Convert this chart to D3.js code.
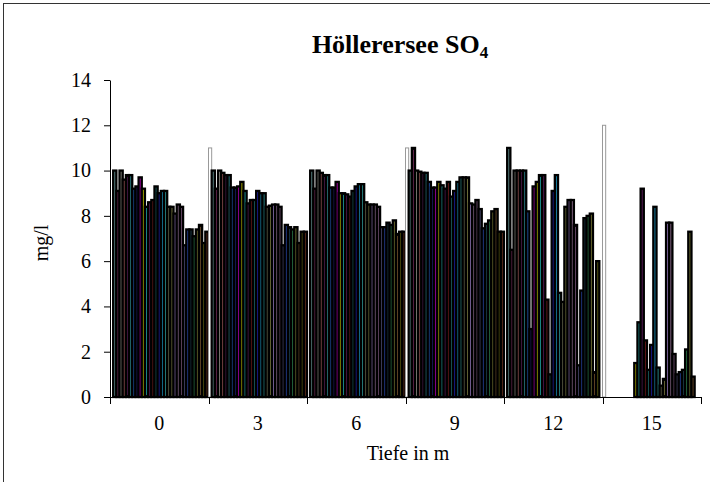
<!DOCTYPE html>
<html><head><meta charset="utf-8">
<script src="https://cdn.jsdelivr.net/npm/d3@7"></script>
<style>html,body{margin:0;padding:0;background:#fff;} svg{display:block;}</style>
</head><body><svg id="chart" width="710" height="482"></svg>
<script>
// ---- data ----
const categories = ["0", "3", "6", "9", "12", "15"];
// one value per sampling series (31 series, first is the white series); null = no value
const depth0  = [null, 10.0, 9.1, 10.0, 9.6, 9.8, 9.8, 9.2, 9.3, 9.7, 9.2, 8.4, 8.6, 8.7, 9.3, 9.0, 9.1, 9.1, 8.4, 8.4, 8.1, 8.5, 8.4, 6.7, 7.4, 7.4, 7.1, 7.4, 7.6, 6.8, 7.3];
const depth3  = [11.0, 10.0, 9.2, 10.0, 9.9, 9.8, 9.8, 9.25, 9.25, 9.3, 9.5, 9.1, 8.55, 8.7, 8.7, 9.1, 9.0, 9.0, 8.4, 8.45, 8.5, 8.5, 8.4, 6.7, 7.6, 7.5, 7.4, 7.5, 6.8, 7.3, 7.3];
const depth6  = [null, 10.0, 9.2, 10.0, 9.9, 9.8, 9.8, 9.25, 9.25, 9.5, 9.0, 9.0, 8.95, 8.85, 9.1, 9.3, 9.4, 9.4, 8.6, 8.5, 8.5, 8.5, 8.4, 7.5, 7.5, 7.7, 7.6, 7.8, 7.2, 7.3, 7.3];
const depth9  = [11.0, 10.0, 11.0, 10.0, 9.95, 9.9, 9.9, 9.5, 9.25, 9.25, 9.5, 9.35, 9.2, 9.5, 8.85, 9.1, 9.5, 9.7, 9.7, 9.7, 8.55, 8.5, 8.7, 8.3, 7.45, 7.65, 7.8, 8.2, 8.3, 7.3, 7.3];
const depth12 = [null, 11.0, 6.5, 10.0, 10.0, 10.0, 10.0, 8.2, 3.0, 9.3, 9.5, 9.8, 9.8, 4.3, 1.0, 9.1, 9.8, 4.6, 4.2, 8.4, 8.7, 8.7, 7.6, 1.4, 4.7, 7.9, 8.0, 8.1, 1.1, 6.0, null];
const depth15 = [12.0, null, null, null, null, null, null, null, null, null, 1.5, 3.3, 9.2, 2.5, 1.2, 2.3, 8.4, 1.3, 0.5, 0.8, 7.7, 7.7, 1.9, 1.0, 1.1, 1.2, 2.1, 7.3, 0.9, null, null];
const yTicks = [0, 2, 4, 6, 8, 10, 12, 14];
const titleMain = "Höllerersee SO";
const titleSub = "4";
const xTitle = "Tiefe in m";
const yTitle = "mg/l";
const seriesColors = ["#FFFFFF", "#5F8C8C", "#6E2A55", "#8A8A80", "#A05A5A", "#4A1A4A", "#2A7A80", "#1F4FA0", "#1A1A60",
  "#B000B0", "#B0B000", "#1F9A9A", "#5A1A5A", "#6A1A1A", "#1A5A5A", "#2020B0", "#1A8AB0", "#2A8A8A", "#6A6A50",
  "#7A7A40", "#8A70B0", "#8A6A8A", "#6A4A6A", "#4A4A70", "#2A4AB0", "#1A3A4A", "#2A7A4A", "#707030", "#6A4A2A",
  "#5A5A10", "#5A2A1A"];

// ---- chart ----
const valuesByDepth = [depth0, depth3, depth6, depth9, depth12, depth15];
const nSeries = depth0.length;
const FONT = "'Liberation Serif', 'Times New Roman', serif";

const svg = d3.select("#chart");

// chart area border
svg.append("rect").attr("x", 3.5).attr("y", 3.5).attr("width", 720).attr("height", 500)
  .attr("fill", "none").attr("stroke", "#333").attr("stroke-width", 1);

const x0 = d3.scaleBand().domain(categories).range([110, 701]).paddingInner(0).paddingOuter(0);
const x1 = d3.scaleBand().domain(d3.range(nSeries)).range([0, x0.bandwidth()]).padding(0);
const y = d3.scaleLinear().domain([0, 14]).range([397, 80]);

// bars
const groups = svg.append("g").selectAll("g").data(categories).join("g")
  .attr("transform", c => `translate(${x0(c)},0)`);
groups.each(function(c, gi) {
  const vals = valuesByDepth[gi].map((v, i) => ({ v, i })).filter(d => d.v != null && d.v > 0);
  d3.select(this).selectAll("rect").data(vals).join("rect")
    .attr("x", d => x1(d.i))
    .attr("width", x1.bandwidth())
    .attr("y", d => y(d.v))
    .attr("height", d => y(0) - y(d.v))
    .attr("fill", d => seriesColors[d.i])
    .attr("stroke", d => d.i === 0 ? "#999" : "#000")
    .attr("stroke-width", d => d.i === 0 ? 1 : 2.3);
});

// y axis
const yAxis = svg.append("g").attr("transform", "translate(110,0)")
  .call(d3.axisLeft(y).tickValues(yTicks).tickSize(6).tickSizeOuter(0).tickPadding(13).tickFormat(d3.format("d")));
yAxis.select(".domain").attr("stroke", "#000");
yAxis.selectAll(".tick line").attr("stroke", "#000");
yAxis.selectAll("text").attr("font-family", FONT).attr("font-size", 20).attr("fill", "#000");

// x axis
const xAxis = svg.append("g");
xAxis.append("line").attr("x1", x0.range()[0]).attr("x2", x0.range()[1])
  .attr("y1", y(0) + 0.5).attr("y2", y(0) + 0.5).attr("stroke", "#000");
const edges = categories.map(c => x0(c)).concat([x0.range()[1]]);
xAxis.selectAll("line.tick").data(edges).join("line").attr("class", "tick")
  .attr("x1", d => Math.round(d) + 0.5).attr("x2", d => Math.round(d) + 0.5)
  .attr("y1", y(0)).attr("y2", y(0) + 7).attr("stroke", "#000");
xAxis.selectAll("text").data(categories).join("text")
  .attr("x", c => x0(c) + x0.bandwidth() / 2).attr("y", 430)
  .attr("text-anchor", "middle").attr("font-family", FONT).attr("font-size", 20).text(c => c);

// titles
const t = svg.append("text").attr("x", 400).attr("y", 53).attr("text-anchor", "middle")
  .attr("font-family", FONT).attr("font-size", 26).attr("font-weight", "bold");
t.append("tspan").text(titleMain);
t.append("tspan").attr("font-size", 17).attr("dy", 5).text(titleSub);

svg.append("text").attr("x", 408).attr("y", 460).attr("text-anchor", "middle")
  .attr("font-family", FONT).attr("font-size", 20).text(xTitle);

svg.append("text").attr("transform", "translate(48,243) rotate(-90)").attr("text-anchor", "middle")
  .attr("font-family", FONT).attr("font-size", 20).text(yTitle);
</script>
</body></html>
